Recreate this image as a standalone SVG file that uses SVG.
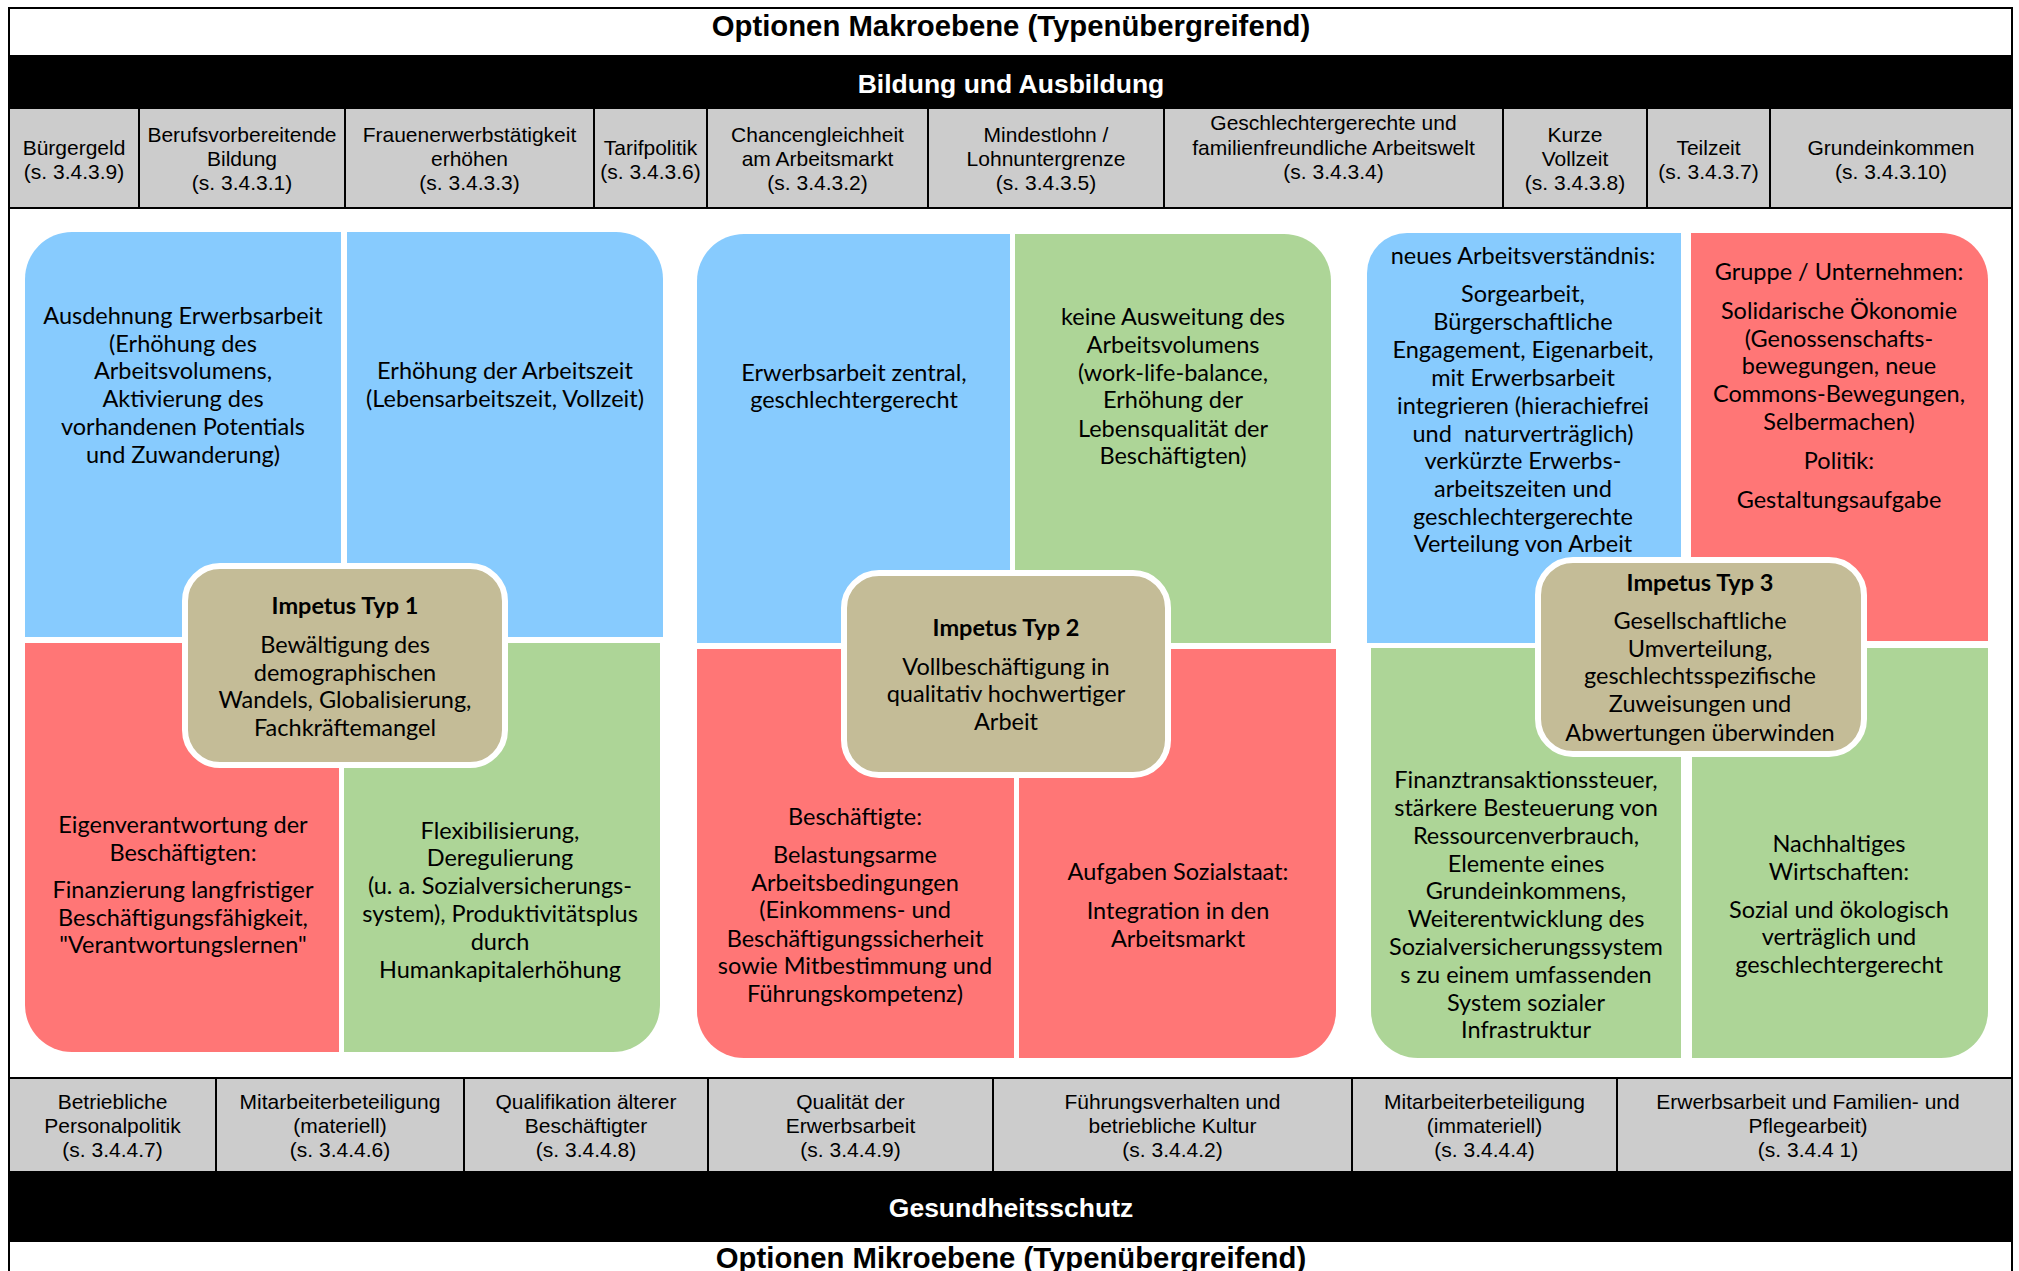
<svg xmlns="http://www.w3.org/2000/svg" width="2019" height="1271" viewBox="0 0 2019 1271">
<style>
.t{font-family:Lato,"Open Sans",sans-serif;font-size:23.5px;fill:#000;text-anchor:middle}
.b{font-weight:bold}
.c{font-family:"Liberation Sans",Arial,sans-serif;font-size:21px;fill:#000;text-anchor:middle}
.h{font-family:"Liberation Sans",Arial,sans-serif;font-weight:bold;font-size:29.3px;fill:#000;text-anchor:middle}
.w{font-family:"Liberation Sans",Arial,sans-serif;font-weight:bold;font-size:26.5px;fill:#fff;text-anchor:middle}
.blue{fill:#87CBFE}
.red{fill:#FF7676}
.green{fill:#ADD597}
.tan{fill:#C4BC97;stroke:#fff;stroke-width:6}
.grey{fill:#CCCCCC}
.ln{stroke:#000;stroke-width:2;fill:none}
</style>
<rect x="0" y="0" width="2019" height="1271" fill="#fff"/>

<g id="frame">
<rect x="9" y="55" width="2003" height="54" fill="#000"/>
<rect class="grey" x="9" y="109" width="2003" height="99"/>
<rect class="grey" x="9" y="1078" width="2003" height="93"/>
<rect x="9" y="1171" width="2003" height="71" fill="#000"/>
<line class="ln" x1="9" y1="208" x2="2012" y2="208" stroke-width="2.5"/>
<line class="ln" x1="9" y1="1078" x2="2012" y2="1078" stroke-width="2.5"/>
<path class="ln" d="M9,1275 V8 H2012 V1275"/>
</g>

<g id="title-makro"><text class="h" x="1011" y="36">Optionen Makroebene (Typenübergreifend)</text></g>
<g id="band-bildung"><text class="w" x="1011" y="93">Bildung und Ausbildung</text></g>

<g id="makro-cells">
<g class="ln" stroke-width="1.5">
<line x1="139" y1="109" x2="139" y2="208"/><line x1="345" y1="109" x2="345" y2="208"/>
<line x1="594" y1="109" x2="594" y2="208"/><line x1="707" y1="109" x2="707" y2="208"/>
<line x1="928" y1="109" x2="928" y2="208"/><line x1="1164" y1="109" x2="1164" y2="208"/>
<line x1="1503" y1="109" x2="1503" y2="208"/><line x1="1647" y1="109" x2="1647" y2="208"/>
<line x1="1770" y1="109" x2="1770" y2="208"/>
</g>
<g id="m1"><text class="c"><tspan x="74" y="154.5">Bürgergeld</tspan><tspan x="74" y="178.5">(s. 3.4.3.9)</tspan></text></g>
<g id="m2"><text class="c"><tspan x="242" y="141.5">Berufsvorbereitende</tspan><tspan x="242" y="165.5">Bildung</tspan><tspan x="242" y="190">(s. 3.4.3.1)</tspan></text></g>
<g id="m3"><text class="c"><tspan x="469.5" y="141.5">Frauenerwerbstätigkeit</tspan><tspan x="469.5" y="165.5">erhöhen</tspan><tspan x="469.5" y="190">(s. 3.4.3.3)</tspan></text></g>
<g id="m4"><text class="c"><tspan x="650.5" y="154.5">Tarifpolitik</tspan><tspan x="650.5" y="178.5">(s. 3.4.3.6)</tspan></text></g>
<g id="m5"><text class="c"><tspan x="817.5" y="141.5">Chancengleichheit</tspan><tspan x="817.5" y="165.5">am Arbeitsmarkt</tspan><tspan x="817.5" y="190">(s. 3.4.3.2)</tspan></text></g>
<g id="m6"><text class="c"><tspan x="1046" y="141.5">Mindestlohn /</tspan><tspan x="1046" y="165.5">Lohnuntergrenze</tspan><tspan x="1046" y="190">(s. 3.4.3.5)</tspan></text></g>
<g id="m7"><text class="c"><tspan x="1333.5" y="129.5">Geschlechtergerechte und</tspan><tspan x="1333.5" y="154.5">familienfreundliche Arbeitswelt</tspan><tspan x="1333.5" y="178.5">(s. 3.4.3.4)</tspan></text></g>
<g id="m8"><text class="c"><tspan x="1575" y="141.5">Kurze</tspan><tspan x="1575" y="165.5">Vollzeit</tspan><tspan x="1575" y="190">(s. 3.4.3.8)</tspan></text></g>
<g id="m9"><text class="c"><tspan x="1708.5" y="154.5">Teilzeit</tspan><tspan x="1708.5" y="178.5">(s. 3.4.3.7)</tspan></text></g>
<g id="m10"><text class="c"><tspan x="1891" y="154.5">Grundeinkommen</tspan><tspan x="1891" y="178.5">(s. 3.4.3.10)</tspan></text></g>
</g>

<g id="typ1">
<path class="blue" d="M25,279 A47,47 0 0 1 72,232 H341 V637 H25 Z"/>
<path class="blue" d="M347,232 H616 A47,47 0 0 1 663,279 V637 H347 Z"/>
<path class="red" d="M25,643 H339 V1052 H72 A47,47 0 0 1 25,1005 Z"/>
<path class="green" d="M344,643 H660 V1005 A47,47 0 0 1 613,1052 H344 Z"/>
<text class="t"><tspan x="183" y="324">Ausdehnung Erwerbsarbeit</tspan><tspan x="183" y="351.7">(Erhöhung des</tspan><tspan x="183" y="379.4">Arbeitsvolumens,</tspan><tspan x="183" y="407.1">Aktivierung des</tspan><tspan x="183" y="434.8">vorhandenen Potentials</tspan><tspan x="183" y="462.5">und Zuwanderung)</tspan></text>
<text class="t"><tspan x="505" y="379.4">Erhöhung der Arbeitszeit</tspan><tspan x="505" y="407.1">(Lebensarbeitszeit, Vollzeit)</tspan></text>
<text class="t"><tspan x="183" y="833">Eigenverantwortung der</tspan><tspan x="183" y="860.5">Beschäftigten:</tspan><tspan x="183" y="898">Finanzierung langfristiger</tspan><tspan x="183" y="926">Beschäftigungsfähigkeit,</tspan><tspan x="183" y="953">"Verantwortungslernen"</tspan></text>
<text class="t"><tspan x="500" y="839">Flexibilisierung,</tspan><tspan x="500" y="866">Deregulierung</tspan><tspan x="500" y="894">(u. a. Sozialversicherungs-</tspan><tspan x="500" y="921.5">system), Produktivitätsplus</tspan><tspan x="500" y="950">durch</tspan><tspan x="500" y="977.5">Humankapitalerhöhung</tspan></text>
<g id="impetus1">
<rect class="tan" x="185" y="566" width="320" height="199" rx="35"/>
<text class="t"><tspan class="b" x="345" y="614">Impetus Typ 1</tspan><tspan x="345" y="653">Bewältigung des</tspan><tspan x="345" y="680.5">demographischen</tspan><tspan x="345" y="708">Wandels, Globalisierung,</tspan><tspan x="345" y="736">Fachkräftemangel</tspan></text>
</g>
</g>

<g id="typ2">
<path class="blue" d="M697,281 A47,47 0 0 1 744,234 H1010 V643 H697 Z"/>
<path class="green" d="M1015,234 H1284 A47,47 0 0 1 1331,281 V643 H1015 Z"/>
<path class="red" d="M697,649 H1014 V1058 H744 A47,47 0 0 1 697,1011 Z"/>
<path class="red" d="M1019,649 H1336 V1011 A47,47 0 0 1 1289,1058 H1019 Z"/>
<text class="t"><tspan x="854" y="381">Erwerbsarbeit zentral,</tspan><tspan x="854" y="408">geschlechtergerecht</tspan></text>
<text class="t"><tspan x="1173" y="325">keine Ausweitung des</tspan><tspan x="1173" y="352.5">Arbeitsvolumens</tspan><tspan x="1173" y="380.5">(work-life-balance,</tspan><tspan x="1173" y="408">Erhöhung der</tspan><tspan x="1173" y="436.5">Lebensqualität der</tspan><tspan x="1173" y="464">Beschäftigten)</tspan></text>
<text class="t"><tspan x="855" y="825">Beschäftigte:</tspan><tspan x="855" y="863">Belastungsarme</tspan><tspan x="855" y="891">Arbeitsbedingungen</tspan><tspan x="855" y="918">(Einkommens- und</tspan><tspan x="855" y="946.5">Beschäftigungssicherheit</tspan><tspan x="855" y="974">sowie Mitbestimmung und</tspan><tspan x="855" y="1001.5">Führungskompetenz)</tspan></text>
<text class="t"><tspan x="1178" y="880">Aufgaben Sozialstaat:</tspan><tspan x="1178" y="919">Integration in den</tspan><tspan x="1178" y="946.5">Arbeitsmarkt</tspan></text>
<g id="impetus2">
<rect class="tan" x="844" y="573" width="324" height="202" rx="35"/>
<text class="t"><tspan class="b" x="1006" y="635.5">Impetus Typ 2</tspan><tspan x="1006" y="675">Vollbeschäftigung in</tspan><tspan x="1006" y="702">qualitativ hochwertiger</tspan><tspan x="1006" y="730">Arbeit</tspan></text>
</g>
</g>

<g id="typ3">
<path class="blue" d="M1367,273 A40,40 0 0 1 1407,233 H1681 V643 H1367 Z"/>
<path class="red" d="M1691,233 H1941 A47,47 0 0 1 1988,280 V641 H1691 Z"/>
<path class="green" d="M1371,648 H1681 V1058 H1418 A47,47 0 0 1 1371,1011 Z"/>
<path class="green" d="M1692,648 H1988 V1011 A47,47 0 0 1 1941,1058 H1692 Z"/>
<text class="t" xml:space="preserve"><tspan x="1523" y="264">neues Arbeitsverständnis:</tspan><tspan x="1523" y="302">Sorgearbeit,</tspan><tspan x="1523" y="330">Bürgerschaftliche</tspan><tspan x="1523" y="358">Engagement, Eigenarbeit,</tspan><tspan x="1523" y="385.5">mit Erwerbsarbeit</tspan><tspan x="1523" y="414">integrieren (hierachiefrei</tspan><tspan x="1523" y="441.5">und  naturverträglich)</tspan><tspan x="1523" y="469">verkürzte Erwerbs-</tspan><tspan x="1523" y="496.5">arbeitszeiten und</tspan><tspan x="1523" y="525">geschlechtergerechte</tspan><tspan x="1523" y="552">Verteilung von Arbeit</tspan></text>
<text class="t"><tspan x="1839" y="280">Gruppe / Unternehmen:</tspan><tspan x="1839" y="319">Solidarische Ökonomie</tspan><tspan x="1839" y="346.5">(Genossenschafts-</tspan><tspan x="1839" y="374">bewegungen, neue</tspan><tspan x="1839" y="402">Commons-Bewegungen,</tspan><tspan x="1839" y="430">Selbermachen)</tspan><tspan x="1839" y="469">Politik:</tspan><tspan x="1839" y="508">Gestaltungsaufgabe</tspan></text>
<text class="t"><tspan x="1526" y="788">Finanztransaktionssteuer,</tspan><tspan x="1526" y="816">stärkere Besteuerung von</tspan><tspan x="1526" y="844">Ressourcenverbrauch,</tspan><tspan x="1526" y="871.5">Elemente eines</tspan><tspan x="1526" y="899">Grundeinkommens,</tspan><tspan x="1526" y="927">Weiterentwicklung des</tspan><tspan x="1526" y="955">Sozialversicherungssystem</tspan><tspan x="1526" y="982.5">s zu einem umfassenden</tspan><tspan x="1526" y="1010.5">System sozialer</tspan><tspan x="1526" y="1038">Infrastruktur</tspan></text>
<text class="t"><tspan x="1839" y="851.5">Nachhaltiges</tspan><tspan x="1839" y="880">Wirtschaften:</tspan><tspan x="1839" y="917.5">Sozial und ökologisch</tspan><tspan x="1839" y="945">verträglich und</tspan><tspan x="1839" y="973">geschlechtergerecht</tspan></text>
<g id="impetus3">
<rect class="tan" x="1538" y="560" width="326" height="194" rx="35"/>
<text class="t"><tspan class="b" x="1700" y="591">Impetus Typ 3</tspan><tspan x="1700" y="629">Gesellschaftliche</tspan><tspan x="1700" y="656.5">Umverteilung,</tspan><tspan x="1700" y="684">geschlechtsspezifische</tspan><tspan x="1700" y="712">Zuweisungen und</tspan><tspan x="1700" y="740.5">Abwertungen überwinden</tspan></text>
</g>
</g>

<g id="mikro-cells">
<g class="ln" stroke-width="1.5">
<line x1="216" y1="1078" x2="216" y2="1171"/><line x1="464" y1="1078" x2="464" y2="1171"/>
<line x1="708" y1="1078" x2="708" y2="1171"/><line x1="993" y1="1078" x2="993" y2="1171"/>
<line x1="1352" y1="1078" x2="1352" y2="1171"/><line x1="1617" y1="1078" x2="1617" y2="1171"/>
</g>
<g id="u1"><text class="c"><tspan x="112.5" y="1108.5">Betriebliche</tspan><tspan x="112.5" y="1132.5">Personalpolitik</tspan><tspan x="112.5" y="1156.5">(s. 3.4.4.7)</tspan></text></g>
<g id="u2"><text class="c"><tspan x="340" y="1108.5">Mitarbeiterbeteiligung</tspan><tspan x="340" y="1132.5">(materiell)</tspan><tspan x="340" y="1156.5">(s. 3.4.4.6)</tspan></text></g>
<g id="u3"><text class="c"><tspan x="586" y="1108.5">Qualifikation älterer</tspan><tspan x="586" y="1132.5">Beschäftigter</tspan><tspan x="586" y="1156.5">(s. 3.4.4.8)</tspan></text></g>
<g id="u4"><text class="c"><tspan x="850.5" y="1108.5">Qualität der</tspan><tspan x="850.5" y="1132.5">Erwerbsarbeit</tspan><tspan x="850.5" y="1156.5">(s. 3.4.4.9)</tspan></text></g>
<g id="u5"><text class="c"><tspan x="1172.5" y="1108.5">Führungsverhalten und</tspan><tspan x="1172.5" y="1132.5">betriebliche Kultur</tspan><tspan x="1172.5" y="1156.5">(s. 3.4.4.2)</tspan></text></g>
<g id="u6"><text class="c"><tspan x="1484.5" y="1108.5">Mitarbeiterbeteiligung</tspan><tspan x="1484.5" y="1132.5">(immateriell)</tspan><tspan x="1484.5" y="1156.5">(s. 3.4.4.4)</tspan></text></g>
<g id="u7"><text class="c"><tspan x="1808" y="1108.5">Erwerbsarbeit und Familien- und</tspan><tspan x="1808" y="1132.5">Pflegearbeit)</tspan><tspan x="1808" y="1156.5">(s. 3.4.4 1)</tspan></text></g>
</g>

<g id="band-gesundheit"><text class="w" x="1011" y="1217">Gesundheitsschutz</text></g>
<g id="title-mikro"><text class="h" x="1011" y="1268">Optionen Mikroebene (Typenübergreifend)</text></g>

<g id="connectors"/>
</svg>
